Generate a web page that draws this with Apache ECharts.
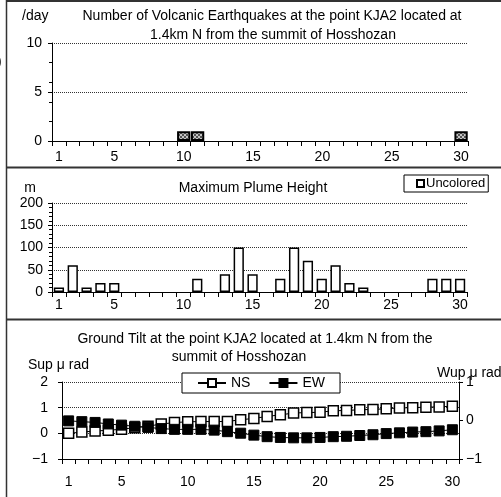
<!DOCTYPE html>
<html>
<head>
<meta charset="utf-8">
<script src="https://cdn.jsdelivr.net/npm/echarts@6/dist/echarts.min.js"></script>
<style>
  html, body { margin: 0; padding: 0; background: #fff; }
  #chart { width: 501px; height: 497px; }
</style>
</head>
<body>
<div id="chart"></div>
<script>
  // days of the month
  var days = []
  for (var d = 1; d <= 30; d++) days.push(String(d))

  // volcanic earthquakes per day
  var quakes = [0,0,0,0,0,0,0,0,0,1, 1,0,0,0,0,0,0,0,0,0, 0,0,0,0,0,0,0,0,0,1]
  // maximum plume height (m), null = no observation
  var plume = [10,60,10,20,20,null,null,null,null,null,
    30,null,40,100,40,null,30,100,70,30,
    60,20,10,null,null,null,null,30,30,30]
  // ground tilt (micro rad)
  var tiltNS = [0.0,0.05,0.09,0.12,0.16,0.22,0.28,0.36,0.42,0.45,
    0.46,0.46,0.46,0.53,0.58,0.66,0.72,0.79,0.81,0.82,
    0.88,0.89,0.92,0.93,0.96,0.99,1.0,1.02,1.03,1.06]
  var tiltEW = [-0.01,-0.03,-0.05,-0.09,-0.12,-0.15,-0.18,-0.21,-0.23,-0.23,
    -0.23,-0.25,-0.29,-0.33,-0.38,-0.42,-0.44,-0.45,-0.45,-0.44,
    -0.42,-0.41,-0.39,-0.37,-0.34,-0.32,-0.30,-0.29,-0.27,-0.24]

  var FONT = 'Liberation Sans, Arial, sans-serif'

  // checker fill for the earthquake bars
  var pat = document.createElement('canvas')
  pat.width = 4
  pat.height = 4
  var pc = pat.getContext('2d')
  pc.fillStyle = '#c4c4c4'
  pc.fillRect(0, 0, 4, 4)
  pc.fillStyle = '#555'
  pc.fillRect(0, 0, 2, 2)
  pc.fillRect(2, 2, 2, 2)

  function minus(v) {
    return String(v).replace('-', '\u2212')
  }

  // shared x axis settings
  function dayAxis(grid, margin) {
    return {
      type: 'category',
      gridIndex: grid,
      data: days,
      boundaryGap: true,
      axisLine: { show: true, onZero: false, lineStyle: { color: '#000', width: 1 } },
      axisTick: { show: true, interval: 0, length: 5, lineStyle: { color: '#000', width: 1 } },
      axisLabel: {
        interval: function (i) { return i === 0 || (i + 1) % 5 === 0 },
        color: '#000', fontSize: 14, margin: margin, fontFamily: FONT
      },
      splitLine: { show: false }
    }
  }

  var dotted = { show: true, lineStyle: { type: 'dotted', color: '#333', width: 1 } }

  function txt(x, y, s, align) {
    return {
      type: 'text', x: x, y: y,
      style: { text: s, font: '14px ' + FONT, fill: '#000', textAlign: align || 'center', textVerticalAlign: 'middle' }
    }
  }
  function hline(y) {
    return { type: 'line', shape: { x1: 6, y1: y, x2: 501, y2: y }, style: { stroke: '#333', lineWidth: 2 } }
  }

  var chart = echarts.init(document.getElementById('chart'))
  var option = {
    animation: false,
    textStyle: { fontFamily: FONT },
    grid: [
      { left: 52, right: 33, top: 43, bottom: 356 },
      { left: 52, right: 34, top: 203, bottom: 205 },
      { left: 62, right: 42, top: 382, bottom: 38 }
    ],
    legend: [
      {
        left: 404, top: 175,
        data: [{ name: 'Uncolored', icon: 'rect' }],
        itemWidth: 7, itemHeight: 7, itemGap: 4,
        padding: [2, 3, 2, 12],
        borderColor: '#000', borderWidth: 1, borderRadius: 0,
        itemStyle: { borderWidth: 2, color: '#fff', borderColor: '#000' },
        textStyle: { fontSize: 13, color: '#000', fontFamily: FONT, padding: [0, 0, 0, -3] }
      },
      {
        left: 182, top: 373,
        data: ['NS', 'EW'],
        itemWidth: 28, itemHeight: 10, itemGap: 18,
        padding: [3, 15, 3, 15],
        backgroundColor: '#fff',
        borderColor: '#000', borderWidth: 1, borderRadius: 0,
        textStyle: { fontSize: 14, color: '#000', fontFamily: FONT }
      }
    ],
    xAxis: [dayAxis(0, 9), dayAxis(1, 6), dayAxis(2, 16)],
    yAxis: [
      {
        type: 'value', gridIndex: 0, min: 0, max: 10, interval: 5,
        axisLine: { show: true, lineStyle: { color: '#000' } },
        axisTick: { show: true, length: 4, lineStyle: { color: '#000' } },
        axisLabel: { color: '#000', fontSize: 14, margin: 10 },
        splitLine: dotted
      },
      {
        // minor ticks every 2
        type: 'value', gridIndex: 0, min: 0, max: 10, interval: 2, position: 'left',
        axisLine: { show: false },
        axisTick: { show: true, length: 3, lineStyle: { color: '#000' } },
        axisLabel: { show: false },
        splitLine: { show: false }
      },
      {
        type: 'value', gridIndex: 1, min: 0, max: 200, interval: 50,
        axisLine: { show: true, lineStyle: { color: '#000' } },
        axisTick: { show: true, length: 4, lineStyle: { color: '#000' } },
        minorTick: { show: true, splitNumber: 5, length: 3, lineStyle: { color: '#000' } },
        axisLabel: { color: '#000', fontSize: 14, margin: 9 },
        splitLine: dotted
      },
      {
        type: 'value', gridIndex: 2, min: -1, max: 2, interval: 1, position: 'left',
        axisLine: { show: true, lineStyle: { color: '#000' } },
        axisTick: { show: true, length: 4, lineStyle: { color: '#000' } },
        axisLabel: { color: '#000', fontSize: 14, margin: 14, formatter: minus },
        splitLine: dotted
      },
      {
        type: 'value', gridIndex: 2, min: -1, max: 1, interval: 1, position: 'right',
        axisLine: { show: true, lineStyle: { color: '#000' } },
        axisTick: { show: true, length: 4, lineStyle: { color: '#000' } },
        axisLabel: { color: '#000', fontSize: 14, margin: 7, formatter: minus },
        splitLine: { show: false }
      }
    ],
    series: [
      {
        name: 'Earthquakes', type: 'bar', xAxisIndex: 0, yAxisIndex: 0,
        data: quakes.map(function (v) { return v || '-' }),
        barCategoryGap: '4%',
        itemStyle: { color: { image: pat, repeat: 'repeat' }, borderColor: '#000', borderWidth: 2 }
      },
      {
        name: 'Uncolored', type: 'bar', xAxisIndex: 1, yAxisIndex: 2,
        data: plume.map(function (v) { return v == null ? '-' : v }),
        barCategoryGap: '26%',
        itemStyle: { color: '#fff', borderColor: '#000', borderWidth: 1.5 }
      },
      {
        name: 'NS', type: 'line', xAxisIndex: 2, yAxisIndex: 3,
        data: tiltNS,
        symbol: 'rect', symbolSize: 10, showAllSymbol: true,
        lineStyle: { color: '#000', width: 1 },
        itemStyle: { color: '#fff', borderColor: '#000', borderWidth: 1.5 }
      },
      {
        name: 'EW', type: 'line', xAxisIndex: 2, yAxisIndex: 4,
        data: tiltEW,
        symbol: 'rect', symbolSize: 10, showAllSymbol: true,
        lineStyle: { color: '#000', width: 1 },
        itemStyle: { color: '#000', borderColor: '#000', borderWidth: 1 }
      }
    ],
    graphic: [
      { type: 'line', shape: { x1: 6.5, y1: 0, x2: 6.5, y2: 497 }, style: { stroke: '#333', lineWidth: 1.5 } },
      hline(1),
      hline(167.5),
      hline(319.5),
      txt(-3, 62, ')', 'left'),
      txt(22, 16, '/day', 'left'),
      txt(272, 16, 'Number of Volcanic Earthquakes at the point KJA2 located at'),
      txt(273, 35, '1.4km N from the summit of Hosshozan'),
      txt(30, 188, 'm'),
      txt(253, 188, 'Maximum Plume Height'),
      txt(255, 339, 'Ground Tilt at the point KJA2 located at 1.4km N from the'),
      txt(239, 357, 'summit of Hosshozan'),
      txt(28, 365, 'Sup \u03bc rad', 'left'),
      txt(437, 373, 'Wup \u03bc rad', 'left')
    ]
  }
  chart.setOption(option)
</script>
</body>
</html>
